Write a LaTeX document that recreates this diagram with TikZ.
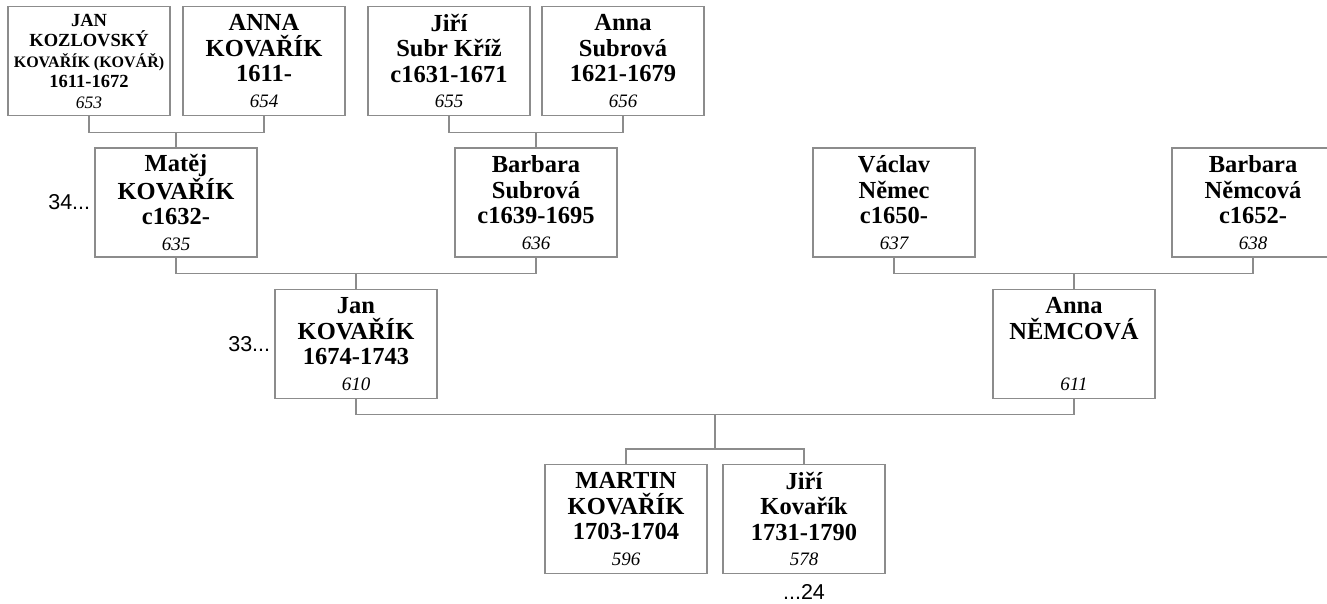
\documentclass[tikz,border=0pt]{standalone}
\usepackage{fontspec}
\setmainfont{Liberation Serif}
\newfontfamily\gensfont{Liberation Sans}
\usetikzlibrary{positioning}
\definecolor{framegray}{RGB}{140,140,140}
\newcommand{\idno}[1]{{\fontsize{19}{25}\selectfont\mdseries\itshape #1}}

\begin{document}
\begin{tikzpicture}[x=1pt, y=-1pt, node distance=2pt,
  person/.style={draw=framegray, line width=1.3pt, fill=white, minimum width=162pt, minimum height=109pt, inner sep=2pt, align=center, font=\fontsize{24.5}{25.5}\selectfont\bfseries},
  small/.style={person, font=\fontsize{18.5}{20.5}\selectfont\bfseries},
  link/.style={draw=framegray, line width=1.3pt},
  gen/.style={inner sep=2pt, font=\gensfont\fontsize{21.5}{24}\selectfont}]
\path[use as bounding box, clip] (0,0) rectangle (1327,603);
\node[small] (p653) at (89,61) {JAN\\KOZLOVSKÝ\\{\fontsize{16}{20.5}\selectfont KOVAŘÍK (KOVÁŘ)}\\1611-1672\\{\fontsize{17.5}{20}\selectfont\mdseries\itshape 653}};
\node[person] (p654) at (264,61) {ANNA\\KOVAŘÍK\\1611-\\\idno{654}};
\node[person] (p655) at (449,61) {Jiří\\Subr Kříž\\c1631-1671\\\idno{655}};
\node[person] (p656) at (623,61) {Anna\\Subrová\\1621-1679\\\idno{656}};
\node[person] (p635) at (176,202.5) {Matěj\\KOVAŘÍK\\c1632-\\\idno{635}};
\node[person] (p636) at (536,202.5) {Barbara\\Subrová\\c1639-1695\\\idno{636}};
\node[person] (p637) at (894,202.5) {Václav\\Němec\\c1650-\\\idno{637}};
\node[person] (p638) at (1253,202.5) {Barbara\\Němcová\\c1652-\\\idno{638}};
\node[person] (p610) at (356,344) {Jan\\KOVAŘÍK\\1674-1743\\\idno{610}};
\node[person] (p611) at (1074,344) {Anna\\NĚMCOVÁ\\\mbox{}\\\idno{611}};
\node[person] (p596) at (626,519) {MARTIN\\KOVAŘÍK\\1703-1704\\\idno{596}};
\node[person] (p578) at (804,519) {Jiří\\Kovařík\\1731-1790\\\idno{578}};
\node[gen, left=of p635] (g34) {34...};
\node[gen, left=of p610] (g33) {33...};
\node[gen, below=8pt of p578] (g24) {...24};
\coordinate (kids) at (715,449);
\draw[link] (p653.south) -- ++(0,16) coordinate (b635) -| (p654.south);
\draw[link] (p635.north) -- (p635.north |- b635);
\draw[link] (p655.south) -- ++(0,16) coordinate (b636) -| (p656.south);
\draw[link] (p636.north) -- (p636.north |- b636);
\draw[link] (p635.south) -- ++(0,16) coordinate (b610) -| (p636.south);
\draw[link] (p610.north) -- (p610.north |- b610);
\draw[link] (p637.south) -- ++(0,16) coordinate (b611) -| (p638.south);
\draw[link] (p611.north) -- (p611.north |- b611);
\draw[link] (p610.south) -- ++(0,15) coordinate (bkids) -| (p611.south);
\draw[link] (kids) -- (kids |- bkids);
\draw[link] (p596.north) |- (kids) -| (p578.north);
\end{tikzpicture}
\end{document}
